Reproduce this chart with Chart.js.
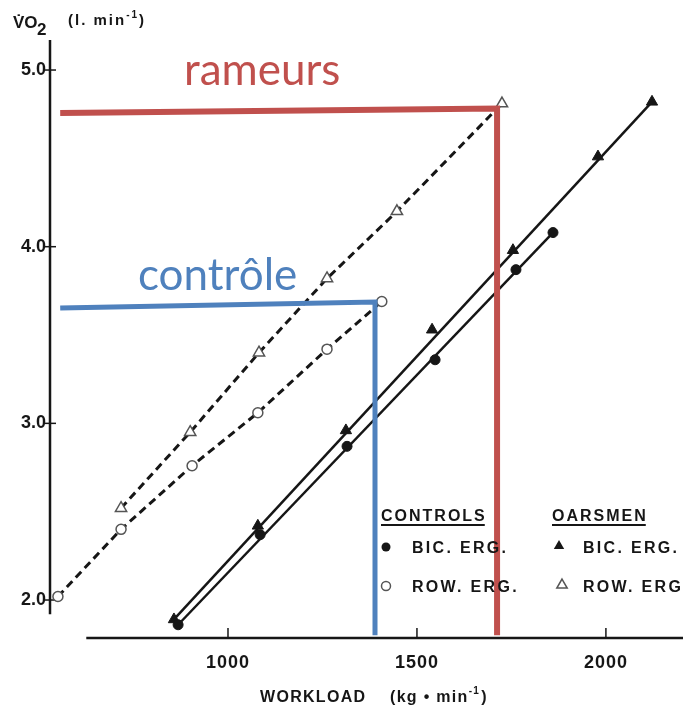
<!DOCTYPE html>
<html lang="fr">
<head>
    <meta charset="UTF-8">
    <title>VO2 vs workload</title>
    <script src="https://cdn.jsdelivr.net/npm/chart.js"></script>
    <style>
        html, body { margin: 0; padding: 0; background: #fff; }
        #wrap { width: 683px; height: 705px; }
    </style>
</head>
<body>
<div id="wrap"><canvas id="vo2Chart" width="683" height="705"></canvas></div>
<script>
// tick labels
const xTicks = [1000, 1500, 2000];
const yTicks = [2.0, 3.0, 4.0, 5.0];

// controls, bicycle ergometer (filled circles)
const controlsBicX = [868, 1085, 1315, 1548, 1762, 1860];
const controlsBicY = [1.86, 2.37, 2.87, 3.36, 3.87, 4.08];
const controlsBicFitX = [868, 1860];
const controlsBicFitY = [1.86, 4.08];

// oarsmen, bicycle ergometer (filled triangles)
const oarsmenBicX = [857, 1079, 1312, 1540, 1754, 1979, 2122];
const oarsmenBicY = [1.89, 2.42, 2.96, 3.53, 3.98, 4.51, 4.82];
const oarsmenBicFitX = [857, 2122];
const oarsmenBicFitY = [1.89, 4.82];

// controls, rowing ergometer (open circles)
const controlsRowX = [550, 717, 905, 1079, 1262, 1407];
const controlsRowY = [2.02, 2.40, 2.76, 3.06, 3.42, 3.69];

// oarsmen, rowing ergometer (open triangles)
const oarsmenRowX = [717, 900, 1082, 1262, 1447, 1725];
const oarsmenRowY = [2.52, 2.95, 3.40, 3.82, 4.20, 4.81];

// hand-drawn markers on top: max VO2 of each group
const rameursX = [556, 1712, 1712];
const rameursY = [4.757, 4.782, 1.80];
const controleX = [556, 1389, 1389];
const controleY = [3.653, 3.687, 1.80];

const zip = (xs, ys) => xs.map((x, i) => ({ x: x, y: ys[i] }));

const ink = '#161616';
const sans = '"Liberation Sans", Arial, sans-serif';

// axes, ticks, legend and notes drawn like the scanned figure
const figurePlugin = {
    id: 'figure',
    beforeDatasetsDraw(chart) {
        const ctx = chart.ctx;
        const xs = chart.scales.x, ys = chart.scales.y;
        const area = chart.chartArea;
        ctx.save();
        ctx.strokeStyle = ink;
        ctx.lineWidth = 2.5;
        // y axis
        ctx.beginPath();
        ctx.moveTo(area.left, ys.getPixelForValue(5.17));
        ctx.lineTo(area.left, ys.getPixelForValue(1.92));
        ctx.stroke();
        // x axis (starts right of the y axis, as in the print)
        ctx.beginPath();
        ctx.moveTo(xs.getPixelForValue(625), area.bottom);
        ctx.lineTo(area.right, area.bottom);
        ctx.stroke();

        ctx.lineWidth = 1.5;
        ctx.fillStyle = ink;
        ctx.font = 'bold 18px ' + sans;
        ctx.letterSpacing = '1px';
        ctx.textAlign = 'center';
        ctx.textBaseline = 'middle';
        xTicks.forEach(v => {
            const px = xs.getPixelForValue(v);
            ctx.beginPath();
            ctx.moveTo(px, area.bottom - 10);
            ctx.lineTo(px, area.bottom);
            ctx.stroke();
            ctx.fillText(String(v), px, area.bottom + 25);
        });
        ctx.textAlign = 'right';
        ctx.letterSpacing = '0px';
        yTicks.forEach(v => {
            const py = ys.getPixelForValue(v);
            ctx.beginPath();
            ctx.moveTo(area.left - 5, py);
            ctx.lineTo(area.left + 6, py);
            ctx.stroke();
            ctx.fillText(v.toFixed(1), area.left - 4, py);
        });

        // x title
        ctx.textAlign = 'left';
        ctx.textBaseline = 'alphabetic';
        ctx.font = 'bold 16px ' + sans;
        ctx.letterSpacing = '1.3px';
        let x = 260;
        ctx.fillText('WORKLOAD', x, 702);
        x = 390;
        ctx.fillText('(kg • min', x, 702);
        x += ctx.measureText('(kg • min').width;
        ctx.font = 'bold 10px ' + sans;
        ctx.fillText('-1', x, 694);
        x += ctx.measureText('-1').width + 1;
        ctx.font = 'bold 16px ' + sans;
        ctx.fillText(')', x, 702);

        // y title
        ctx.font = 'bold 17px ' + sans;
        ctx.letterSpacing = '0px';
        ctx.fillText('V\u0307O', 13, 28);
        ctx.fillText('2', 37, 35);
        ctx.font = 'bold 15px ' + sans;
        ctx.letterSpacing = '2px';
        x = 68;
        ctx.fillText('(l. min', x, 25);
        x += ctx.measureText('(l. min').width;
        ctx.font = 'bold 10px ' + sans;
        ctx.fillText('-1', x, 18);
        x += ctx.measureText('-1').width;
        ctx.font = 'bold 15px ' + sans;
        ctx.fillText(')', x, 25);
        ctx.restore();
    },
    afterDatasetsDraw(chart) {
        const ctx = chart.ctx;
        ctx.save();
        // legend
        ctx.fillStyle = ink;
        ctx.strokeStyle = ink;
        ctx.textBaseline = 'alphabetic';
        ctx.textAlign = 'left';
        ctx.font = 'bold 16px ' + sans;
        ctx.letterSpacing = '2px';
        [['CONTROLS', 381], ['OARSMEN', 552]].forEach(([t, x]) => {
            ctx.fillText(t, x, 521);
            const w = ctx.measureText(t).width;
            ctx.lineWidth = 2;
            ctx.beginPath();
            ctx.moveTo(x, 525);
            ctx.lineTo(x + w - 2, 525);
            ctx.stroke();
        });
        ctx.letterSpacing = '2.3px';
        ctx.fillText('BIC. ERG.', 412, 553);
        ctx.fillText('ROW. ERG.', 412, 592);
        ctx.fillText('BIC. ERG.', 583, 553);
        ctx.fillText('ROW. ERG', 583, 592);
        const dp = Chart.helpers.drawPoint;
        ctx.lineWidth = 1.5;
        ctx.fillStyle = ink;
        dp(ctx, { pointStyle: 'circle', radius: 4.5, borderWidth: 0 }, 386, 547);
        dp(ctx, { pointStyle: 'triangle', radius: 6, borderWidth: 0 }, 559, 546);
        ctx.fillStyle = '#fff';
        ctx.strokeStyle = '#555';
        dp(ctx, { pointStyle: 'circle', radius: 4.5, borderWidth: 1.5 }, 386, 586);
        dp(ctx, { pointStyle: 'triangle', radius: 6, borderWidth: 1.5 }, 562, 585);

        // notes
        ctx.letterSpacing = '0px';
        ctx.font = '44px Lato, "Open Sans", sans-serif';
        ctx.fillStyle = '#C0504D';
        ctx.fillText('rameurs', 184, 85);
        ctx.fillStyle = '#4F81BD';
        ctx.fillText('contrôle', 138, 290);
        ctx.restore();
    }
};

const lineOnly = {
    showLine: true,
    pointRadius: 0,
    borderWidth: 2.5,
    borderColor: ink,
    tension: 0
};

new Chart(document.getElementById('vo2Chart'), {
    type: 'scatter',
    data: {
        datasets: [
            { label: 'rameurs', data: zip(rameursX, rameursY), showLine: true, pointRadius: 0,
              borderColor: '#C0504D', borderWidth: 6, borderJoinStyle: 'miter', order: 0 },
            { label: 'contrôle', data: zip(controleX, controleY), showLine: true, pointRadius: 0,
              borderColor: '#4F81BD', borderWidth: 5, borderJoinStyle: 'miter', order: 0 },
            { label: 'Controls ROW. ERG.', data: zip(controlsRowX, controlsRowY), ...lineOnly,
              borderWidth: 3, borderDash: [8, 5], pointStyle: 'circle', pointRadius: 5,
              pointBackgroundColor: '#fff', pointBorderColor: '#555', pointBorderWidth: 1.5, order: 1 },
            { label: 'Oarsmen ROW. ERG', data: zip(oarsmenRowX, oarsmenRowY), ...lineOnly,
              borderWidth: 3, borderDash: [8, 5], pointStyle: 'triangle', pointRadius: 6.5,
              pointBackgroundColor: '#fff', pointBorderColor: '#555', pointBorderWidth: 1.5, order: 1 },
            { label: 'Controls BIC fit', data: zip(controlsBicFitX, controlsBicFitY), ...lineOnly, order: 1 },
            { label: 'Oarsmen BIC fit', data: zip(oarsmenBicFitX, oarsmenBicFitY), ...lineOnly, order: 1 },
            { label: 'Controls BIC. ERG.', data: zip(controlsBicX, controlsBicY), showLine: false,
              pointStyle: 'circle', pointRadius: 5, pointBackgroundColor: ink, pointBorderColor: ink, order: 1 },
            { label: 'Oarsmen BIC. ERG.', data: zip(oarsmenBicX, oarsmenBicY), showLine: false,
              pointStyle: 'triangle', pointRadius: 6.5, pointBackgroundColor: ink, pointBorderColor: ink, order: 1 }
        ]
    },
    options: {
        responsive: false,
        animation: false,
        events: [],
        layout: { autoPadding: false, padding: { left: 50, right: 0, top: 40, bottom: 67 } },
        scales: {
            x: { type: 'linear', min: 529, max: 2204, display: false },
            y: { type: 'linear', min: 1.785, max: 5.17, display: false }
        },
        plugins: {
            legend: { display: false },
            tooltip: { enabled: false }
        }
    },
    plugins: [figurePlugin]
});
</script>
</body>
</html>
